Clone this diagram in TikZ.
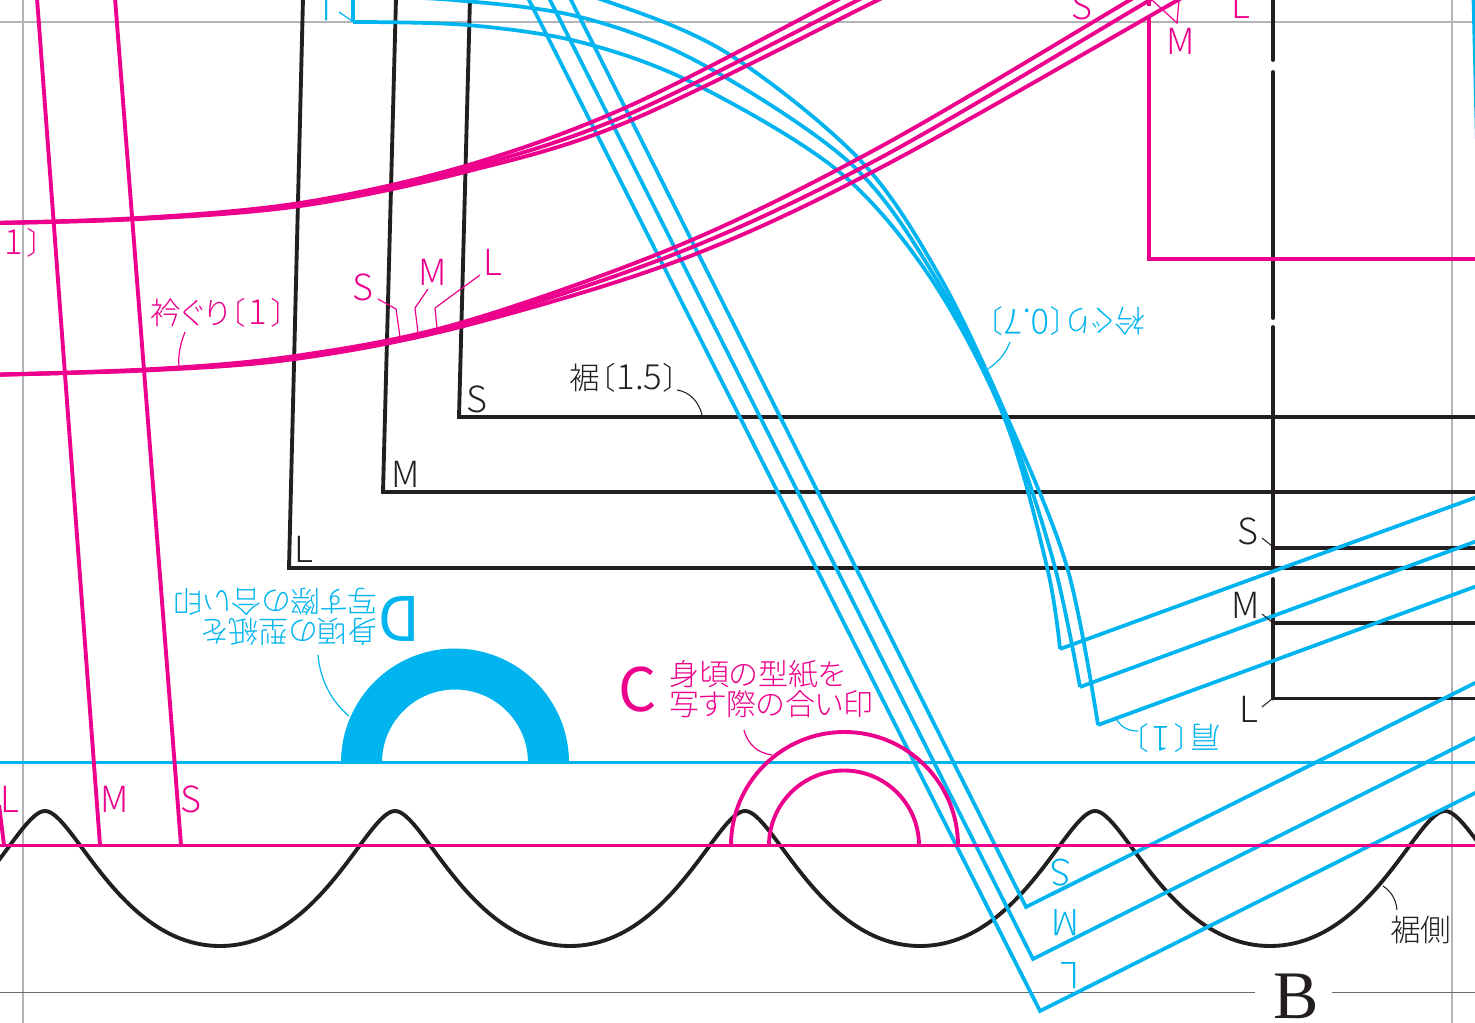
\documentclass[tikz,border=0pt]{standalone}
\usepackage{fontspec}
\setmainfont{Liberation Serif}
\newfontfamily\jp[RawFeature={+palt}]{Noto Sans CJK JP Light}
\newfontfamily\jpreg{Noto Sans CJK JP}
\newcommand{\ks}{\hspace{3pt}}
\newcommand{\dg}[1]{{\fontsize{26}{26}\selectfont #1}}
\definecolor{pk}{HTML}{EC008C}
\definecolor{bl}{HTML}{00B4F0}
\definecolor{bk}{HTML}{231F20}
\definecolor{gy}{HTML}{B4B4B8}
\definecolor{dg}{HTML}{6A6A6A}
\tikzset{
  pkline/.style={draw=pk,line width=2.9pt,line join=miter},
  blline/.style={draw=bl,line width=2.8pt,line join=miter},
  bkline/.style={draw=bk,line width=2.9pt,line join=miter},
  gyline/.style={draw=gy,line width=2pt},
  pkleader/.style={draw=pk,line width=.9pt},
  blleader/.style={draw=bl,line width=.9pt},
  bkleader/.style={draw=bk,line width=.8pt},
  sizelab/.style={inner sep=0pt,font=\jp\fontsize{27}{28}\selectfont},
  jplab/.style={inner sep=0pt,anchor=west,font=\jp\fontsize{23}{25}\selectfont},
  noteblock/.style={inner sep=0pt,anchor=west,font=\jp\fontsize{22.5}{24}\selectfont},
  flip/.style={rotate=180}
}
\begin{document}
\begin{tikzpicture}[x=.75pt,y=-.75pt]
\useasboundingbox (0,0) rectangle (1475,1023);
\clip (0,0) rectangle (1475,1023);
\fill[white] (0,0) rectangle (1475,1023);
% grey guide lines
\draw[gyline] (23,0) -- (23,1023);
\draw[gyline] (1452,0) -- (1452,1023);
\draw[gyline] (0,22) -- (1475,22);
\draw[draw=dg,line width=1.2pt] (0,992.5) -- (1255,992.5);
\draw[draw=dg,line width=1.2pt] (1332,992.5) -- (1475,992.5);
% black hem frames
\draw[bkline] (470,-2) -- (459,417) -- (1477,417);
\draw[bkline] (396,-2) -- (383,492) -- (1477,492);
\draw[bkline] (303,-2) -- (289,568) -- (1477,568);
\draw[bkline,line cap=round] (1273,-2) -- (1273,60);
\draw[bkline,line cap=round] (1273,72) -- (1273,318);
\draw[bkline,line cap=round] (1273,327) -- (1273,568);
\draw[bkline,line cap=round] (1273,579) -- (1273,698.5);
\draw[bkline] (1273,548) -- (1477,548);
\draw[bkline] (1273,623) -- (1477,623);
\draw[bkline] (1273,698.5) -- (1477,698.5);
% waves
\draw[bkline] (-130,946)
  \foreach \i in {0,1,2,3,4}{
   .. controls ({-130+350*\i+100},946) and ({45+350*\i-28},811) .. ({45+350*\i},811)
   .. controls ({45+350*\i+28},811) and ({220+350*\i-100},946) .. ({220+350*\i},946)
  };
% blue horizontal
\draw[blline] (0,762.5) -- (1475,762.5);
% blue arcs
\draw[blline] plot[smooth,tension=.55] coordinates {(490,-30)(603,0)(727,53)(860,160)(940,277)(1007,417)(1067,567)(1098,725)};
\draw[blline] plot[smooth,tension=.55] coordinates {(330,-5)(453,0)(580,17)(700,63)(850,163)(935,277)(1005,417)(1053,560)(1080,687)};
\draw[blline] (353,-2) -- (353,22);
\draw[blline] plot[smooth,tension=.55] coordinates {(353,22)(467,25)(580,42)(693,83)(837,170)(930,277)(1004,417)(1047,567)(1060,649)};
% shoulders
\coordinate (sh1) at (1060,649); \coordinate (sh2) at (1080,687); \coordinate (sh3) at (1098,725);
\draw[blline] (sh1) -- (1477,497);
\draw[blline] (sh2) -- (1477,541);
\draw[blline] (sh3) -- (1477,586);
% centre lines
\draw[blline] (570,-2) -- (1026,907) -- (1477,682);
\draw[blline] (549,-2) -- (1033,959) -- (1477,737);
\draw[blline] (528,-2) -- (1040,1011) -- (1477,792);
\draw[blline] (1473.5,-2) -- (1477,145);
% pink
\draw[pkline] (37,-2) -- (100,845);
\draw[pkline] (115,-2) -- (181,845);
\draw[pkline] (-1,805) -- (4,845);
\draw[pkline] plot[smooth,tension=.55] coordinates {(-60,224)(130,218.5)(300,203)(465,166)(627,107)(837,0)(950,-60)};
\draw[pkline] plot[smooth,tension=.55] coordinates {(-60,224)(130,219)(300,204.5)(465,169)(627,115)(858,0)(960,-55)};
\draw[pkline] plot[smooth,tension=.55] coordinates {(-60,224)(130,219.5)(300,206)(465,172)(627,122)(878,0)(980,-52)};
\draw[pkline] plot[smooth,tension=.55] coordinates {(-60,376)(145,369.5)(295,356)(460,323)(680,245)(880,147)(1130,0)(1230,-60)};
\draw[pkline] plot[smooth,tension=.55] coordinates {(-60,376)(145,370)(295,357.5)(460,325)(680,252)(880,158)(1150,0)(1250,-60)};
\draw[pkline] plot[smooth,tension=.55] coordinates {(-60,376)(145,370.5)(295,359)(460,327)(680,260)(880,168)(1178,0)(1280,-58)};
\draw[pkline] (1149,-2) -- (1149,6);
\draw[pkline] (1149,18) -- (1149,259) -- (1477,259);
\draw[pkline] (0,845.5) -- (1475,845.5);
% D and C marks
\fill[bl] (341,762.5) arc[start angle=180,end angle=360,radius=114] -- (528,762.5) arc[start angle=360,end angle=180,radius=73] -- cycle;
\draw[pkline] (731,845.5) arc[start angle=180,end angle=360,radius=113.5];
\draw[pkline] (769,845.5) arc[start angle=180,end angle=360,radius=75];
% pink leaders
\draw[pkleader] (378,299) -- (396,309) -- (400,337);
\draw[pkleader] (428,289) -- (415,308) -- (418,333);
\draw[pkleader] (480,275) -- (435,308) -- (437,328);
\draw[pkleader] (185,332) .. controls (180,345) and (178,355) .. (179,367);
\draw[pkleader] (744,730) .. controls (748,745) and (758,753) .. (772,755);
\draw[pkleader] (1152,0) -- (1177,23) -- (1179,0);
% blue leaders
\draw[blleader] (318,655) .. controls (320,680) and (332,702) .. (349,716);
\draw[blleader] (1010,342) .. controls (1005,355) and (998,362) .. (988,369);
\draw[blleader] (1117,720) .. controls (1122,728) and (1129,731) .. (1138,731);
\draw[blleader] (339,12) -- (352,21);
% black leaders
\draw[bkleader] (677,390) .. controls (690,392) and (699,402) .. (702,415);
\draw[bkleader] (1383,886) .. controls (1392,892) and (1396,900) .. (1397,910);
\draw[bkleader] (1262,538) -- (1272,546);
\draw[bkleader] (1262,614) -- (1272,622);
\draw[bkleader] (1262,707) -- (1272,699);
% labels pink
\node[jplab,text=pk] (n1) at (150,313) {衿ぐり〔\ks\dg{1}\ks 〕};
\node[jplab,text=pk,anchor=east] (n2) at (43,243) {〔\ks\dg{1}\ks 〕};
\node[sizelab,text=pk] (ps) at (363,287) {S};
\node[sizelab,text=pk] (pm) at (433,272) {M};
\node[sizelab,text=pk] (pl) at (493,262) {L};
\node[sizelab,text=pk] (ps2) at (1082,6) {S};
\node[sizelab,text=pk] (pm2) at (1181,41) {M};
\node[sizelab,text=pk] (pl2) at (1241,5) {L};
\node[sizelab,text=pk] (pl3) at (10,799) {L};
\node[sizelab,text=pk] (pm3) at (115,799) {M};
\node[sizelab,text=pk] (ps3) at (191,799) {S};
\node[inner sep=0pt,text=pk,font=\jpreg\fontsize{45}{46}\selectfont] (cc) at (638,690) {C};
\node[noteblock,text=pk] (c1) at (669,674) {身頃の型紙を};
\node[noteblock,text=pk] (c2) at (669,704) {写す際の合い印};
% labels black
\node[sizelab,text=bk] (ks) at (477,399) {S};
\node[sizelab,text=bk] (km) at (406,474) {M};
\node[sizelab,text=bk] (kl) at (304,549) {L};
\node[sizelab,text=bk] (ks2) at (1248,531) {S};
\node[sizelab,text=bk] (km2) at (1246,605) {M};
\node[sizelab,text=bk] (kl2) at (1249,709) {L};
\node[jplab,text=bk] (h1) at (569,378) {裾〔\hspace{1pt}\dg{1.5}\hspace{1pt}〕};
\node[jplab,text=bk] (h2) at (1390,930) {裾側};
\node[inner sep=0pt,text=bk,font=\fontsize{51}{53}\selectfont] (bb) at (1296,996) {B};
% labels blue, upside down
\node[jplab,text=bl,flip] (b1) at (1146,321) {衿ぐり〔\hspace{1pt}\dg{0.7}\hspace{1pt}〕};
\node[jplab,text=bl,flip] (b2) at (1221,738) {肩〔\ks\dg{1}\ks 〕};
\node[sizelab,text=bl,flip] (bs) at (1061,873) {S};
\node[sizelab,text=bl,flip] (bm) at (1065,923) {M};
\node[sizelab,text=bl,flip] (bL) at (1070,976) {L};
\node[sizelab,text=bl,flip] (bL2) at (322,8) {L};
\node[inner sep=0pt,text=bl,flip,font=\jpreg\fontsize{46}{48}\selectfont] (dd) at (399,619) {D};
\node[noteblock,text=bl,flip] (d1) at (378,632) {身頃の型紙を};
\node[noteblock,text=bl,flip] (d2) at (378,602) {写す際の合い印};
\end{tikzpicture}
\end{document}
